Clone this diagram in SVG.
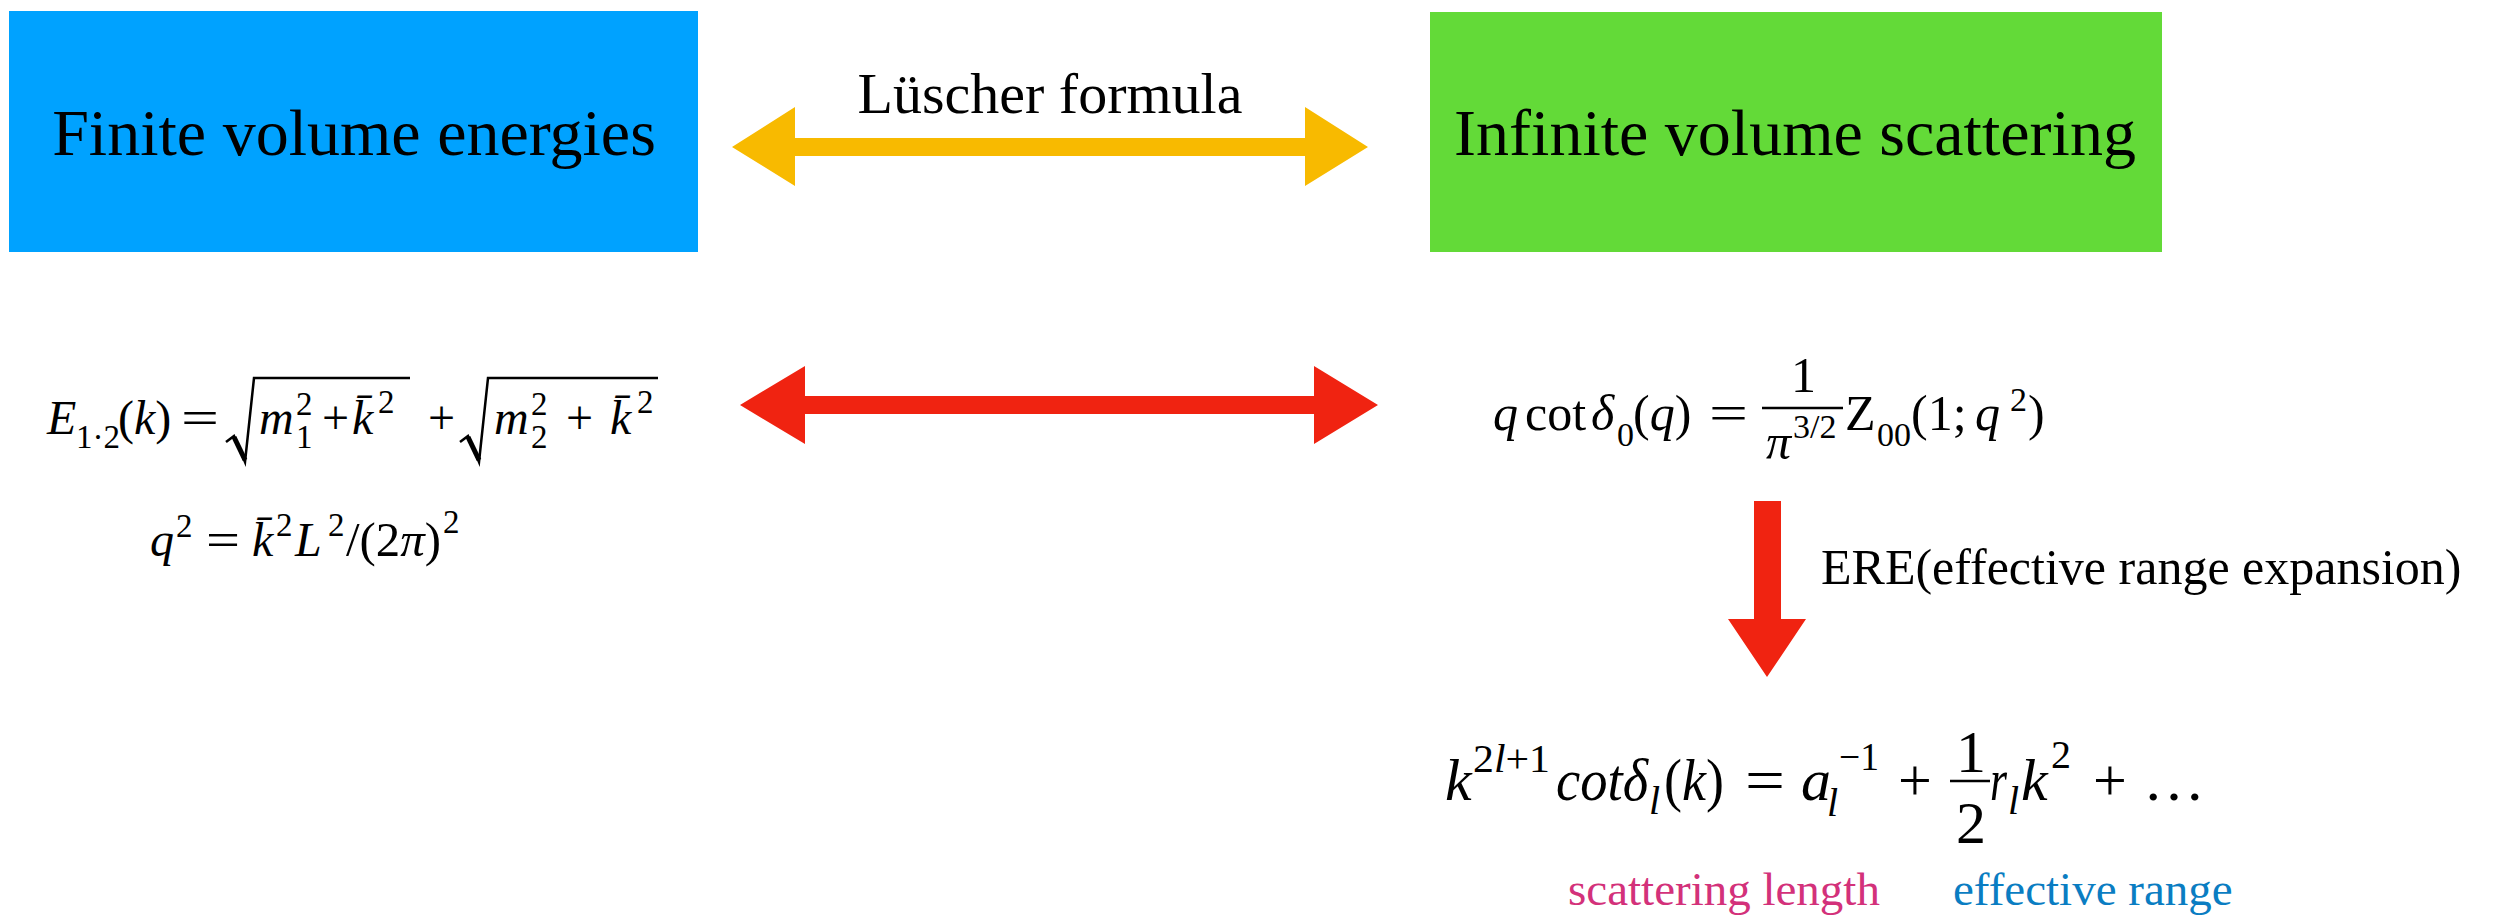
<svg xmlns="http://www.w3.org/2000/svg" width="2506" height="919" viewBox="0 0 2506 919">
<style>
text{font-family:"Liberation Serif","Times New Roman",serif;fill:#000}
.i{font-style:italic}
.e{font-size:48px}
.es{font-size:33px}
.q{font-size:50px}
.qs{font-size:34px}
.k{font-size:60px}
.ks{font-size:40px}
.rad{fill:none;stroke:#000;stroke-width:2.5;stroke-linejoin:miter}
.radt{fill:none;stroke:#000;stroke-width:5}
.bar{stroke:#000;stroke-width:2.5}
</style>
<rect width="2506" height="919" fill="#fff"/>
<g id="finite-volume">
<rect x="9" y="11" width="689" height="241" fill="#00A2FF"/>
<text x="354" y="155" font-size="66" text-anchor="middle">Finite volume energies</text>
</g>
<g id="infinite-volume">
<rect x="1430" y="12" width="732" height="240" fill="#63DA38"/>
<text x="1795" y="155" font-size="66" text-anchor="middle">Infinite volume scattering</text>
</g>
<g id="energy-formula">
<text class="e i" x="47" y="434">E</text>
<text class="es" x="76" y="448">1·2</text>
<text class="e" x="118" y="434">(<tspan class="i">k</tspan>)</text>
<text class="e" x="181" y="434" textLength="38" lengthAdjust="spacingAndGlyphs">=</text>
<path class="rad" d="M226,442 L234,436 L245,462 L254,378 L410,378"/>
<path class="radt" d="M234,437 L245,460"/>
<text class="e i" x="259" y="434">m</text>
<text class="es" x="296" y="415">2</text>
<text class="es" x="296" y="448">1</text>
<text class="e" x="322" y="434">+</text>
<text class="e i" x="352" y="434">k̄</text>
<text class="es" x="378" y="413">2</text>
<text class="e" x="428" y="434">+</text>
<path class="rad" d="M460,442 L468,436 L479,462 L488,378 L658,378"/>
<path class="radt" d="M468,437 L479,460"/>
<text class="e i" x="494" y="434">m</text>
<text class="es" x="531" y="415">2</text>
<text class="es" x="531" y="448">2</text>
<text class="e" x="566" y="434">+</text>
<text class="e i" x="610" y="434">k̄</text>
<text class="es" x="637" y="413">2</text>
</g>
<g id="q-formula">
<text class="e i" x="150" y="556">q</text>
<text class="es" x="176" y="537">2</text>
<text class="e" x="206" y="556" textLength="34" lengthAdjust="spacingAndGlyphs">=</text>
<text class="e i" x="252" y="556">k̄</text>
<text class="es" x="276" y="536">2</text>
<text class="e i" x="295" y="556">L</text>
<text class="es" x="328" y="536">2</text>
<text class="e" x="346" y="556" textLength="95" lengthAdjust="spacingAndGlyphs">/(2<tspan class="i">π</tspan>)</text>
<text class="es" x="443" y="533">2</text>
</g>
<g id="phase-shift-formula">
<text class="q i" x="1493" y="430">q</text>
<text class="q" x="1525" y="430">cot</text>
<text class="q i" x="1591" y="430">δ</text>
<text class="qs" x="1617" y="446">0</text>
<text class="q" x="1633" y="430">(<tspan class="i">q</tspan>)</text>
<text class="q" x="1709" y="430" textLength="39" lengthAdjust="spacingAndGlyphs">=</text>
<text class="q" x="1791" y="392">1</text>
<line class="bar" x1="1762" y1="408" x2="1843" y2="408"/>
<text class="q i" x="1766" y="459">π</text>
<text class="qs" x="1793" y="438">3/2</text>
<text class="q" x="1845" y="430">Z</text>
<text class="qs" x="1877" y="446">00</text>
<text class="q" x="1911" y="430">(1;</text>
<text class="q i" x="1975" y="430">q</text>
<text class="qs" x="2010" y="411">2</text>
<text class="q" x="2028" y="430">)</text>
</g>
<g id="ere-formula">
<text class="k i" x="1445" y="800">k</text>
<text class="ks" x="1473" y="772" textLength="77" lengthAdjust="spacingAndGlyphs">2<tspan class="i">l</tspan>+1</text>
<text class="k i" x="1556" y="800" textLength="92" lengthAdjust="spacingAndGlyphs">cotδ</text>
<text class="ks i" x="1649" y="814">l</text>
<text class="k" x="1664" y="800" textLength="60" lengthAdjust="spacingAndGlyphs">(<tspan class="i">k</tspan>)</text>
<text class="k" x="1745" y="800" textLength="40" lengthAdjust="spacingAndGlyphs">=</text>
<text class="k i" x="1801" y="800">a</text>
<text class="ks i" x="1827" y="816">l</text>
<text class="ks" x="1839" y="770" textLength="40" lengthAdjust="spacingAndGlyphs">−1</text>
<text class="k" x="1898" y="800">+</text>
<text class="k" x="1956" y="772" font-size="48">1</text>
<line class="bar" x1="1950" y1="781" x2="1990" y2="781"/>
<text class="k" x="1956" y="843" font-size="48">2</text>
<text class="k i" x="1990" y="800" textLength="17" lengthAdjust="spacingAndGlyphs">r</text>
<text class="ks i" x="2008" y="814">l</text>
<text class="k i" x="2021" y="800">k</text>
<text class="ks" x="2051" y="768">2</text>
<text class="k" x="2093" y="800">+</text>
<text class="k" x="2143" y="800" textLength="62" lengthAdjust="spacingAndGlyphs">…</text>
</g>
<g id="ere-labels">
<text x="1568" y="905" font-size="47" style="fill:#D3317A">scattering length</text>
<text x="1953" y="905" font-size="47" style="fill:#0A7DC2">effective range</text>
</g>
<g id="connectors">
<polygon points="732,147 795,107 795,138 1305,138 1305,107 1368,147 1305,186 1305,156 795,156 795,186" fill="#F8BA00"/>
<text x="1050" y="113" font-size="58" text-anchor="middle">Lüscher formula</text>
<polygon points="740,405 805,366 805,396 1314,396 1314,366 1378,405 1314,444 1314,414 805,414 805,444" fill="#F02311"/>
<polygon points="1754,501 1781,501 1781,619 1806,619 1767,677 1728,619 1754,619" fill="#F02311"/>
<text x="1821" y="584" font-size="50">ERE(effective range expansion)</text>
</g>
</svg>
